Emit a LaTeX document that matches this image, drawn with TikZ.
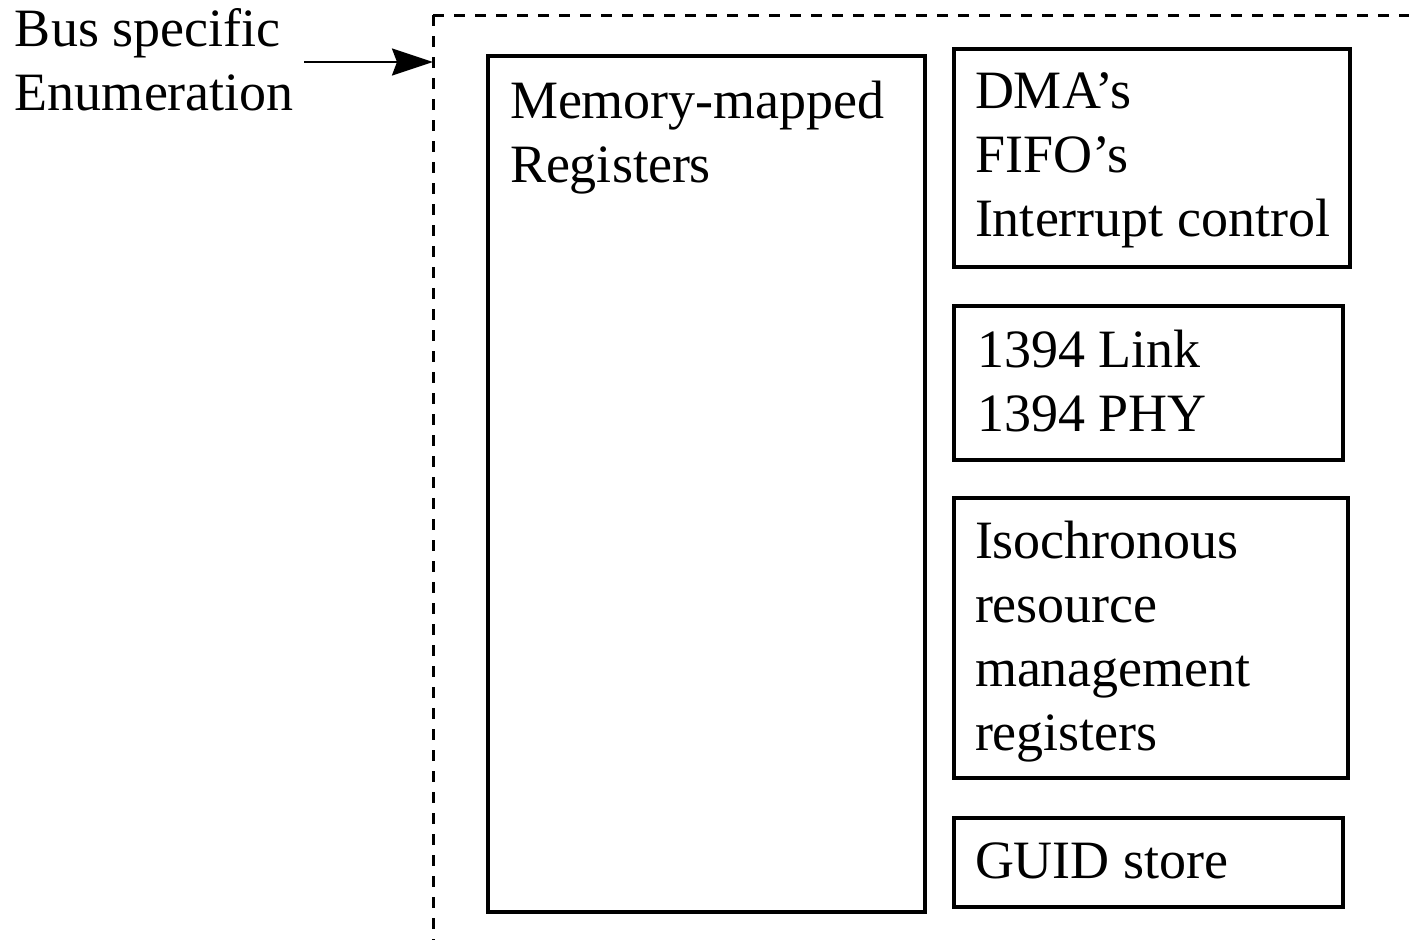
\documentclass[tikz,border=0pt]{standalone}
\usepackage{fontspec}
\setmainfont{Liberation Serif}
\usetikzlibrary{arrows.meta}
\tikzset{
  box/.style={draw=black, line width=4pt, inner sep=0pt, outer sep=0pt, anchor=north west},
  lbl/.style={anchor=north west, inner sep=0pt, outer sep=0pt, align=left, font=\fontsize{54}{64}\selectfont},
  frame/.style={draw=black, line width=3pt, dash pattern=on 11pt off 10pt},
  conn/.style={draw=black, line width=2.5pt, -{Stealth[length=41pt,width=27pt,inset=5pt]}}
}
\begin{document}
\begin{tikzpicture}[x=1pt,y=-1pt]
\useasboundingbox (0,0) rectangle (1409,940);
% dashed enclosure (runs off the page)
\coordinate (frameTL) at (433,15);
\draw[frame] (frameTL) -- (433,960);
\draw[frame] (frameTL) -- (1430,15);
% boxes
\node[box, minimum width=437pt, minimum height=856pt] (mem) at (488,56) {};
\node[box, minimum width=396pt, minimum height=218pt] (dma) at (954,49) {};
\node[box, minimum width=389pt, minimum height=154pt] (link) at (954,306) {};
\node[box, minimum width=394pt, minimum height=280pt] (iso) at (954,498) {};
\node[box, minimum width=389pt, minimum height=89pt] (guid) at (954,818) {};
% texts
\node[lbl] (bus) at (15,46-44.8) {\strut Bus specific\\Enumeration};
\node[lbl] (memt) at (510,118-44.8) {\strut Memory-mapped\\Registers};
\node[lbl] (dmat) at (975,108-44.8) {\strut DMA’s\\FIFO’s\\Interrupt control};
\node[lbl] (linkt) at (977,367-44.8) {\strut 1394 Link\\1394 PHY};
\node[lbl] (isot) at (975,558-44.8) {\strut Isochronous\\resource\\management\\registers};
\node[lbl] (guidt) at (975,878-44.8) {\strut GUID store};
% arrow
\coordinate (arrS) at (304,62);
\coordinate (arrE) at (433,62);
\draw[conn] (arrS) -- (arrE);
\end{tikzpicture}
\end{document}
